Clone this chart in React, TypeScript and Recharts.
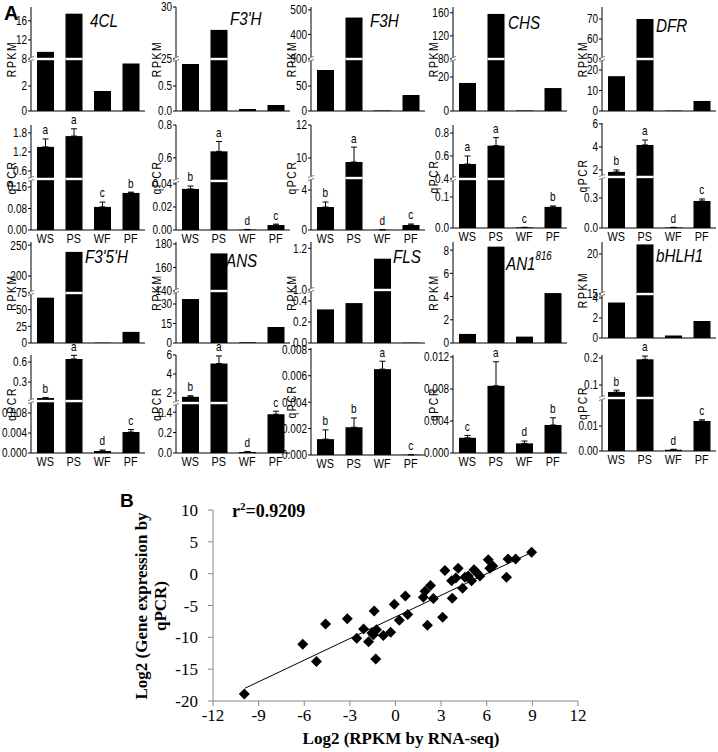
import React from 'react';
import {
  Bar,
  ComposedChart,
  ErrorBar,
  LabelList,
  Line,
  Scatter,
  ScatterChart,
  XAxis,
  YAxis,
} from 'recharts';

const SANS = "'Liberation Sans', Arial, sans-serif";
const SERIF = "'Liberation Serif', 'Times New Roman', serif";
const SQ = 0.8; // horizontal squeeze to imitate a narrow face

// ---- data ----
const SAMPLES = ['WS', 'PS', 'WF', 'PF'];
const GENES = ['4CL', "F3'H", 'F3H', 'CHS', 'DFR', "F3'5'H", 'ANS', 'FLS', 'AN1', 'bHLH1'];
const GENE_SUP = ['', '', '', '', '', '', '', '', '816', ''];

const RPKM = [
  [9.5, 17.5, 1.6, 3.8],
  [0.94, 27.8, 0.04, 0.12],
  [82, 469, 1, 32],
  [16.5, 158, 0.3, 13.5],
  [17, 70, 0.2, 4.9],
  [68, 239, 0.5, 16.7],
  [33.8, 172, 0.5, 12.3],
  [0.32, 0.38, 1.15, 0.003],
  [0.78, 8.3, 0.55, 4.3],
  [3.55, 21.2, 0.25, 1.7],
];
const RPKM_TICKS = [
  ['0', '2', '8', '12', '16'],
  ['0.0', '0.5', '25', '30'],
  ['0', '50', '300', '400', '500'],
  ['0', '20', '80', '120', '160'],
  ['0', '10', '20', '50', '60', '70'],
  ['0', '25', '50', '75', '200', '250'],
  ['0', '15', '30', '140', '160', '180'],
  ['0.0', '0.2', '0.4', '1.0', '1.2'],
  ['0', '2', '4', '6', '8'],
  ['0', '2', '4', '15', '20'],
];
// [lower max, upper min, upper max] for a broken axis, [max] otherwise
const RPKM_RANGE = [
  [4.16, 8, 18.9],
  [1.04, 25, 30],
  [104, 300, 512],
  [30.6, 80, 170],
  [25.4, 50, 76],
  [75, 172.6, 255],
  [40, 140, 181.7],
  [0.505, 1.0, 1.23],
  [8.7],
  [4.4, 15, 21.5],
];

const QPCR = [
  [1.36, 1.7, 0.086, 0.138],
  [0.0357, 0.64, 0.0003, 0.0043],
  [2.3, 9.76, 0.02, 0.5],
  [0.53, 0.69, 0.002, 0.068],
  [1.83, 4.17, 0.005, 0.27],
  [0.06, 0.645, 0.0004, 0.0042],
  [1.6, 5.1, 0.01, 0.38],
  [0.0012, 0.0021, 0.0065, 0.00002],
  [0.0019, 0.0084, 0.0012, 0.0035],
  [0.074, 0.195, 0.0005, 0.012],
];
const QPCR_SD = [
  [0.25, 0.23, 0.018, 0.003],
  [0.0025, 0.06, 0.0002, 0.0008],
  [0.5, 0.9, 0.01, 0.1],
  [0.07, 0.07, 0, 0.003],
  [0.17, 0.43, 0.002, 0.02],
  [0.005, 0.055, 0.0002, 0.0005],
  [0.12, 0.8, 0.005, 0.03],
  [0.0007, 0.0007, 0.0006, 0],
  [0.0003, 0.003, 0.0003, 0.0009],
  [0.007, 0.012, 0.0002, 0.0005],
];
const QPCR_LETTERS = [
  ['a', 'a', 'c', 'b'],
  ['b', 'a', 'd', 'c'],
  ['b', 'a', 'd', 'c'],
  ['a', 'a', 'c', 'b'],
  ['b', 'a', 'd', 'c'],
  ['b', 'a', 'd', 'c'],
  ['b', 'a', 'd', 'c'],
  ['b', 'b', 'a', 'c'],
  ['c', 'a', 'd', 'b'],
  ['b', 'a', 'd', 'c'],
];
const QPCR_TICKS = [
  ['0.00', '0.08', '0.16', '0.6', '1.2', '1.8'],
  ['0.00', '0.02', '0.04', '0.6', '0.8'],
  ['0', '4', '10', '12'],
  ['0.0', '0.1', '0.4', '0.6', '0.8'],
  ['0.0', '0.3', '2', '4', '6'],
  ['0.000', '0.004', '0.008', '0.3', '0.6'],
  ['0.0', '0.2', '0.4', '2', '4', '6'],
  ['0.000', '0.002', '0.004', '0.006', '0.008'],
  ['0.000', '0.004', '0.008', '0.012'],
  ['0.00', '0.01', '0.1', '0.2'],
];
const QPCR_RANGE = [
  [0.19, 0.347, 2.05],
  [0.0426, 0.46, 0.8],
  [5.2, 8.79, 12],
  [0.158, 0.4, 0.87],
  [0.51, 1.39, 6.08],
  [0.0104, 0.015, 0.705],
  [0.49, 0.95, 6.0],
  [0.0081],
  [0.01225],
  [0.0212, 0.052, 0.211],
];

// scatter (panel B)
const LOG_RPKM = [
  -9.94, -6.1, -5.2, -4.6, -3.17, -2.55, -2.1, -1.4, -1.77, -1.46, -1.25, -1.3, -1.55, -0.8, -0.32,
  -0.08, 0.25, 0.65, 0.8, 1.83, 1.94, 2.1, 2.3, 2.49, 3.1, 3.25, 3.73, 3.69, 3.97, 4.12, 4.41, 4.57,
  4.78, 5.0, 5.16, 5.33, 5.55, 6.1, 6.2, 6.4, 7.3, 7.4, 7.9, 8.95,
];
const LOG_QPCR = [
  -18.9, -11.1, -13.8, -7.9, -7.1, -10.15, -8.7, -5.85, -10.7, -9.6, -8.8, -13.4, -9.3, -9.7, -9.2,
  -4.8, -7.3, -3.5, -6.4, -3.7, -2.75, -8.1, -1.85, -3.9, -6.85, 0.5, -3.85, -1.1, -0.7, 0.85, -2.3,
  -0.55, -0.35, -1.1, 0.6, 0.2, -0.35, 2.2, 0.85, 1.2, -0.55, 2.3, 2.3, 3.35,
];
const TREND_X = [-9.9, 9.0];
const TREND_Y = [-18.0, 3.4];
const X_TICKS = [-12, -9, -6, -3, 0, 3, 6, 9, 12];
const Y_TICKS = [-20, -15, -10, -5, 0, 5, 10];

// ---- layout ----
const COL_X = [31, 176, 311, 453, 602];
const RPKM_BOX = [
  [7, 111], [7, 111], [7, 111], [7, 111], [7, 111],
  [242, 343], [242, 343], [242, 343], [242, 343], [242, 338],
];
const QPCR_BOX = [
  [125, 230], [125, 230], [125, 230], [125, 228], [123, 228],
  [355, 453], [355, 453], [348, 455], [355, 453], [355, 451],
];
const RPKM_BREAK = [0.5, 0.5, 0.5, 0.5, 0.5, 0.495, 0.515, 0.525, 0, 0.458];
const QPCR_BREAK = [0.486, 0.467, 0.495, 0.476, 0.486, 0.53, 0.51, 0, 0, 0.552];
const TITLE_POS = [
  [90, 20], [230, 18], [370, 20], [508, 22], [656, 25],
  [85, 256], [226, 260], [393, 256], [506, 263], [656, 255],
];

const PLOT_W = 114;
const AXIS_W = 40;

function NText({ x, y, size, anchor = 'start', italic = false, rotate = 0, children }: any) {
  return (
    <text
      transform={`translate(${x},${y}) rotate(${rotate}) scale(${SQ},1)`}
      fontSize={size}
      fontFamily={SANS}
      fontStyle={italic ? 'italic' : undefined}
      textAnchor={anchor}
      dominantBaseline="central"
      fill="#000"
    >
      {children}
    </text>
  );
}

function makeScale(range: number[], bf: number) {
  if (range.length < 3) return (v: number) => v / range[0];
  const [lo, hi, mx] = range;
  return (v: number) => {
    if (v <= lo) return (v / lo) * bf;
    return bf + Math.max(0, (v - hi) / (mx - hi)) * (1 - bf);
  };
}

interface PanelProps {
  values: number[];
  sd?: number[];
  letters?: string[];
  ticks: string[];
  range: number[];
  bf: number;
  x: number;
  top: number;
  bottom: number;
  showX: boolean;
}

function BarPanel({ values, sd, letters, ticks, range, bf, x, top, bottom, showX }: PanelProps) {
  const disp = makeScale(range, bf);
  const data = SAMPLES.map((s, i) => {
    const d = disp(values[i]);
    const t = sd ? disp(values[i] + sd[i]) : d;
    return { s, d, e: [0, t - d], t, letter: letters ? letters[i] : '' };
  });
  const tickVals = ticks.map((t) => disp(Number(t)));
  const mt = 16;
  const xh = showX ? 20 : 8;
  const plotH = bottom - top;

  const renderYTick = (p: any) => {
    const idx = tickVals.findIndex((v) => Math.abs(v - p.payload.value) < 1e-6);
    return (
      <NText x={p.x} y={p.y} size={12.5} anchor="end">
        {idx >= 0 ? ticks[idx] : ''}
      </NText>
    );
  };
  const renderXTick = (p: any) => (
    <NText x={p.x} y={p.y + 7} size={13.5} anchor="middle">
      {p.payload.value}
    </NText>
  );
  const renderLetter = (p: any) => (
    <NText x={p.x} y={p.y - 9} size={12.5} anchor="middle">
      {p.value}
    </NText>
  );

  const barShape = (p: any) => {
    const { x: bx, y, width, height, payload } = p;
    if (!height || height <= 0) return <g />;
    const base = y + height;
    const yb = base - (bf / payload.d) * height;
    const showBreak = bf > 0 && payload.d > bf + 0.01;
    return (
      <g>
        <rect x={bx} y={y} width={width} height={height} fill="#000" />
        {showBreak && <rect x={bx} y={yb - 1.2} width={width} height={2.4} fill="#fff" />}
      </g>
    );
  };

  return (
    <div style={{ position: 'absolute', left: x - AXIS_W, top: top - mt }}>
      <ComposedChart
        width={AXIS_W + PLOT_W + 2}
        height={mt + plotH + xh}
        data={data}
        margin={{ top: mt, right: 2, left: 0, bottom: 0 }}
      >
        <XAxis
          dataKey="s"
          height={xh}
          interval={0}
          tickLine={false}
          tickSize={0}
          tickMargin={2}
          axisLine={{ stroke: '#000' }}
          tick={showX ? renderXTick : false}
        />
        <YAxis
          type="number"
          domain={[0, 1]}
          allowDataOverflow
          ticks={tickVals}
          interval={0}
          width={AXIS_W}
          tickSize={3}
          tickMargin={1}
          axisLine={{ stroke: '#000' }}
          tickLine={{ stroke: '#000' }}
          tick={renderYTick}
        />
        <Bar dataKey="d" barSize={17} fill="#000" shape={barShape} isAnimationActive={false}>
          {sd && <ErrorBar dataKey="e" width={3} stroke="#000" strokeWidth={1} />}
        </Bar>
        {letters && (
          <Line dataKey="t" stroke="none" dot={false} activeDot={false} isAnimationActive={false}>
            <LabelList dataKey="letter" content={renderLetter} />
          </Line>
        )}
      </ComposedChart>
    </div>
  );
}

const Diamond = (p: any) => {
  const { cx, cy } = p;
  const r = 5.5;
  return <polygon points={`${cx},${cy - r} ${cx + r},${cy} ${cx},${cy + r} ${cx - r},${cy}`} fill="#000" />;
};

export default function App() {
  const points = LOG_RPKM.map((x, i) => ({ x, y: LOG_QPCR[i] }));
  const trend = TREND_X.map((x, i) => ({ x, y: TREND_Y[i] }));

  return (
    <div style={{ position: 'absolute', left: 0, top: 0, width: 718, height: 752, background: '#fff' }}>
      {GENES.map((g, i) => (
        <BarPanel
          key={`r-${g}`}
          values={RPKM[i]}
          ticks={RPKM_TICKS[i]}
          range={RPKM_RANGE[i]}
          bf={RPKM_BREAK[i]}
          x={COL_X[i % 5]}
          top={RPKM_BOX[i][0]}
          bottom={RPKM_BOX[i][1]}
          showX={false}
        />
      ))}
      {GENES.map((g, i) => (
        <BarPanel
          key={`q-${g}`}
          values={QPCR[i]}
          sd={QPCR_SD[i]}
          letters={QPCR_LETTERS[i]}
          ticks={QPCR_TICKS[i]}
          range={QPCR_RANGE[i]}
          bf={QPCR_BREAK[i]}
          x={COL_X[i % 5]}
          top={QPCR_BOX[i][0]}
          bottom={QPCR_BOX[i][1]}
          showX
        />
      ))}

      <div style={{ position: 'absolute', left: 0, top: 480 }}>
        <ScatterChart width={718} height={272} margin={{ top: 30, right: 140, left: 163, bottom: 21 }}>
          <XAxis
            type="number"
            dataKey="x"
            domain={[-12, 12]}
            ticks={X_TICKS}
            interval={0}
            height={30}
            tickSize={5}
            tickMargin={3}
            axisLine={{ stroke: '#888' }}
            tickLine={{ stroke: '#888' }}
            tick={{ fontSize: 17, fontFamily: SERIF, fill: '#000' }}
          />
          <YAxis
            type="number"
            dataKey="y"
            domain={[-20, 10]}
            ticks={Y_TICKS}
            interval={0}
            width={50}
            tickSize={5}
            tickMargin={10}
            axisLine={{ stroke: '#888' }}
            tickLine={{ stroke: '#888' }}
            tick={{ fontSize: 17, fontFamily: SERIF, fill: '#000' }}
          />
          <Scatter data={trend} line={{ stroke: '#000', strokeWidth: 1 }} shape={() => <g />} isAnimationActive={false} />
          <Scatter data={points} shape={Diamond} isAnimationActive={false} />
        </ScatterChart>
      </div>

      <svg width={718} height={752} style={{ position: 'absolute', left: 0, top: 0, pointerEvents: 'none' }}>
        <text x={4} y={20} fontSize={20} fontWeight="bold" fontFamily={SANS}>A</text>
        <text x={120} y={507} fontSize={19} fontWeight="bold" fontFamily={SANS}>B</text>
        {GENES.map((g, i) => (
          <NText key={`t-${g}`} x={TITLE_POS[i][0]} y={TITLE_POS[i][1]} size={19} italic>
            {g}
            {GENE_SUP[i] && (
              <tspan fontSize={12} dy={-7}>
                {GENE_SUP[i]}
              </tspan>
            )}
          </NText>
        ))}
        {[...RPKM_BOX, ...QPCR_BOX].map((b, i) => {
          const ax = COL_X[i % 5];
          const label = i < 10 ? 'RPKM' : 'qPCR';
          return (
            <NText key={`yl-${i}`} x={ax - 21} y={(b[0] + b[1]) / 2} size={13} anchor="middle" rotate={-90}>
              <tspan letterSpacing={2}>{label}</tspan>
            </NText>
          );
        })}
        {[...RPKM_BOX, ...QPCR_BOX].map((b, i) => {
          const bf = i < 10 ? RPKM_BREAK[i] : QPCR_BREAK[i - 10];
          if (!bf) return null;
          const ax = COL_X[i % 5];
          const yb = b[1] - bf * (b[1] - b[0]);
          return (
            <g key={`br-${i}`}>
              <rect x={ax - 1} y={yb - 2} width={3} height={4} fill="#fff" />
              <line x1={ax - 3} y1={yb - 0.5} x2={ax + 3} y2={yb - 2.5} stroke="#555" strokeWidth={0.8} />
              <line x1={ax - 3} y1={yb + 2.5} x2={ax + 3} y2={yb + 0.5} stroke="#555" strokeWidth={0.8} />
            </g>
          );
        })}
        <text x={232} y={517} fontSize={18} fontWeight="bold" fontFamily={SERIF} fill="#000">
          r<tspan fontSize={11} dy={-7}>2</tspan>
          <tspan dy={7}>=0.9209</tspan>
        </text>
        <text x={401} y={744} textAnchor="middle" fontSize={17} fontWeight="bold" fontFamily={SERIF} fill="#000">
          Log2 (RPKM by RNA-seq)
        </text>
        <g transform="translate(147,606) rotate(-90)">
          <text x={0} y={0} textAnchor="middle" fontSize={17} fontWeight="bold" fontFamily={SERIF} fill="#000">
            Log2 (Gene expression by
          </text>
          <text x={0} y={19} textAnchor="middle" fontSize={17} fontWeight="bold" fontFamily={SERIF} fill="#000">
            qPCR)
          </text>
        </g>
      </svg>
    </div>
  );
}
